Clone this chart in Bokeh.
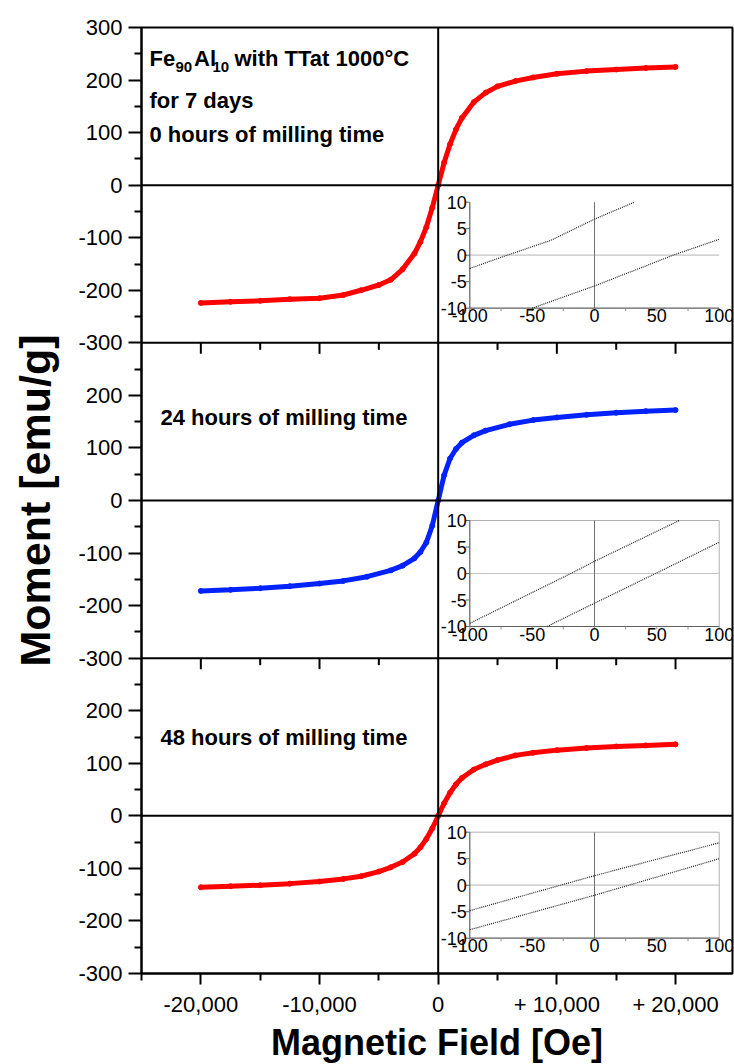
import math

from bokeh.core.properties import value
from bokeh.embed import file_html
from bokeh.models import FixedTicker, Range1d, Span
from bokeh.plotting import figure
from bokeh.resources import INLINE

# ---------------------------------------------------------------- data
# Hysteresis loops of Fe90Al10 (field in Oe, moment in emu/g)
field_0h = [-20000, -17500, -15000, -12500, -10000, -8000, -6500, -5000, -4000, -3000,
            -2000, -1500, -1000, -500, 0, 500, 1000, 1500, 2000, 3000, 4000, 5000,
            6500, 8000, 10000, 12500, 15000, 17500, 20000]
moment_0h = [-224, -222, -220, -217, -215, -209, -200, -190, -180, -160,
             -130, -108, -80, -43, 0, 43, 78, 106, 128, 158, 176, 188,
             198, 205, 212, 217, 220, 223, 225]

field_24h = [-20000, -17500, -15000, -12500, -10000, -8000, -6000, -4000, -3000, -2000,
             -1500, -1000, -500, 0, 500, 1000, 1500, 2000, 3000, 4000, 6000, 8000,
             10000, 12500, 15000, 17500, 20000]
moment_24h = [-172, -170, -167, -163, -158, -153, -145, -133, -124, -110,
              -98, -80, -48, 0, 48, 80, 98, 110, 124, 133, 145, 153,
              158, 163, 167, 170, 172]

field_48h = [-20000, -17500, -15000, -12500, -10000, -8000, -6500, -5000, -4000, -3000,
             -2000, -1500, -1000, -500, 0, 500, 1000, 1500, 2000, 3000, 4000, 5000,
             6500, 8000, 10000, 12500, 15000, 17500, 20000]
moment_48h = [-136, -134, -132, -129, -125, -120, -115, -106, -98, -88,
              -72, -60, -44, -24, 0, 24, 44, 60, 72, 88, 98, 106,
              115, 120, 125, 129, 132, 134, 136]

# Low-field detail (field in Oe, moment in emu/g): ascending / descending branches
inset_0h_up_x = [-100, -70, -35, 0, 32]
inset_0h_up_y = [-2.5, 0.0, 2.8, 6.8, 10.0]
inset_0h_dn_x = [-50, 0, 63, 100]
inset_0h_dn_y = [-10.0, -5.8, 0.0, 3.0]

inset_24h_up_x = [-100, -19, 0, 68]
inset_24h_up_y = [-9.4, 0.0, 2.3, 10.0]
inset_24h_dn_x = [-38, 0, 49, 100]
inset_24h_dn_y = [-10.0, -5.6, 0.0, 5.9]

inset_48h_up_x = [-100, 0, 100]
inset_48h_up_y = [-4.8, 1.8, 8.0]
inset_48h_dn_x = [-100, 0, 100]
inset_48h_dn_y = [-8.4, -1.9, 5.0]

x_major_ticks = [-20000, -10000, 0, 10000, 20000]
x_minor_ticks = [-25000, -15000, -5000, 5000, 15000]
x_tick_labels = ["-20,000", "-10,000", "0", "+ 10,000", "+ 20,000"]
panel_tick_values = [300, 200, 100, 0, -100, -200, -300]
inset_x_ticks = [-100, -50, 0, 50, 100]
inset_x_minor = [-75, -25, 25, 75]
inset_y_ticks = [-10, -5, 0, 5, 10]

panel_titles = ["24 hours of milling time", "48 hours of milling time"]

# ---------------------------------------------------------------- layout
W, H = 734, 1064
FRAME_L, FRAME_R, FRAME_T, FRAME_B = 141, 732, 27, 973
X_MIN, X_MAX = -25000, 24800
PANEL_SPAN = 600                       # each panel covers -300 .. 300 emu/g
Y_MIN, Y_MAX = -1.5 * PANEL_SPAN, 1.5 * PANEL_SPAN
FONT = "Liberation Sans"


def px_to_x(px):
    return X_MIN + (px - FRAME_L) / (FRAME_R - FRAME_L) * (X_MAX - X_MIN)


def px_to_y(py):
    return Y_MAX - (py - FRAME_T) / (FRAME_B - FRAME_T) * (Y_MAX - Y_MIN)


def fitted_range(v_a, p_a, v_b, p_b, p_start, p_end):
    """Range whose values v_a, v_b land on pixels p_a, p_b of the frame."""
    k = (v_b - v_a) / (p_b - p_a)
    return Range1d(start=v_a + (p_start - p_a) * k, end=v_a + (p_end - p_a) * k)


p = figure(
    frame_width=FRAME_R - FRAME_L, frame_height=FRAME_B - FRAME_T,
    x_range=Range1d(X_MIN, X_MAX), y_range=Range1d(Y_MIN, Y_MAX),
    min_border_left=FRAME_L, min_border_right=W - FRAME_R,
    min_border_top=FRAME_T, min_border_bottom=H - FRAME_B,
    output_backend="svg", toolbar_location=None,
    background_fill_color="white", border_fill_color="white",
)
p.grid.visible = False
p.outline_line_color = "black"
p.outline_line_width = 2

# one y range per stacked panel (top, middle, bottom)
p.extra_y_ranges = {
    "p0": Range1d(-300 - 2 * PANEL_SPAN, 300),
    "p1": Range1d(-300 - PANEL_SPAN, 300 + PANEL_SPAN),
    "p2": Range1d(-300, 300 + 2 * PANEL_SPAN),
}

# ---------------------------------------------------------------- axes
p.xaxis.ticker = FixedTicker(ticks=x_major_ticks, minor_ticks=x_minor_ticks)
p.xaxis.major_label_overrides = {t: s for t, s in zip(x_major_ticks, x_tick_labels)}
p.xaxis.axis_label = "Magnetic Field [Oe]"
p.xaxis.major_tick_out = 11
p.xaxis.minor_tick_out = 7
p.xaxis.major_label_standoff = 7
p.xaxis.axis_label_standoff = 2
p.xaxis.axis_label_text_font_size = "36px"

y_ticks, y_labels = [], {}
for k, centre in enumerate([PANEL_SPAN, 0, -PANEL_SPAN]):
    for v in panel_tick_values:
        if k > 0 and v == 300:
            continue
        t = centre + v
        y_ticks.append(t)
        y_labels[t] = str(v)
y_minor = [t + 50 for t in range(int(Y_MIN), int(Y_MAX), 100)]
p.yaxis.ticker = FixedTicker(ticks=y_ticks, minor_ticks=y_minor)
p.yaxis.major_label_overrides = y_labels
p.yaxis.axis_label = "Moment [emu/g]"
p.yaxis.major_tick_out = 13
p.yaxis.minor_tick_out = 7
p.yaxis.major_label_standoff = 6
p.yaxis.axis_label_standoff = 16
p.yaxis.axis_label_text_font_size = "43px"

for ax in (p.xaxis, p.yaxis):
    ax.axis_line_width = 2
    ax.axis_line_color = "black"
    ax.major_tick_in = 0
    ax.minor_tick_in = 0
    ax.major_tick_line_width = 2
    ax.minor_tick_line_width = 2
    ax.major_label_text_font = FONT
    ax.major_label_text_font_size = "22px"
    ax.major_label_text_color = "black"
    ax.axis_label_text_font = FONT
    ax.axis_label_text_font_style = "bold"
    ax.axis_label_text_color = "black"

# ---------------------------------------------------------------- frame lines
p.add_layout(Span(location=0, dimension="height", line_color="black", line_width=2))
for boundary in (300, -300):
    p.add_layout(Span(location=boundary, dimension="width", line_color="black", line_width=2))
    major = [t for t in x_major_ticks if t != 0]
    p.ray(x=major, y=[boundary] * len(major), length=11, length_units="screen",
          angle=-math.pi / 2, line_color="black", line_width=2)
    minor = [t for t in x_minor_ticks if t != X_MIN]
    p.ray(x=minor, y=[boundary] * len(minor), length=7, length_units="screen",
          angle=-math.pi / 2, line_color="black", line_width=2)
for k in range(3):
    p.add_layout(Span(location=0, dimension="width", y_range_name=f"p{k}",
                      line_color="black", line_width=2))

# ---------------------------------------------------------------- loops
loops = [
    (field_0h, moment_0h, "#ff0000"),
    (field_24h, moment_24h, "#0022ff"),
    (field_48h, moment_48h, "#ff0000"),
]
for k, (hx, my, col) in enumerate(loops):
    p.line(hx, my, y_range_name=f"p{k}", line_color=col, line_width=5)
    p.scatter(hx, my, y_range_name=f"p{k}", size=5, fill_color=col, line_color=col)

# ---------------------------------------------------------------- insets
INSET_L, INSET_R = 469.3, 718.7
inset_tops = [201.7, 520.0, 831.7]
INSET_H = 106.0
p.extra_x_ranges = {
    "ix": fitted_range(inset_x_ticks[0], INSET_L, inset_x_ticks[-1], INSET_R, FRAME_L, FRAME_R)
}
insets = [
    (inset_0h_up_x, inset_0h_up_y, inset_0h_dn_x, inset_0h_dn_y, False),
    (inset_24h_up_x, inset_24h_up_y, inset_24h_dn_x, inset_24h_dn_y, True),
    (inset_48h_up_x, inset_48h_up_y, inset_48h_dn_x, inset_48h_dn_y, True),
]
xlo, xhi = inset_x_ticks[0], inset_x_ticks[-1]
ylo, yhi = inset_y_ticks[0], inset_y_ticks[-1]
for k, (ux, uy, dx, dy, boxed) in enumerate(insets):
    name = f"i{k}"
    top = inset_tops[k]
    p.extra_y_ranges[name] = fitted_range(yhi, top, ylo, top + INSET_H, FRAME_B, FRAME_T)
    kw = dict(x_range_name="ix", y_range_name=name)

    if boxed:
        p.line([xlo, xhi, xhi], [yhi, yhi, ylo], line_color="#b0b0b0", line_width=1, **kw)
    p.line([xlo, xhi], [0, 0], line_color="#c4c4c4", line_width=1.2, **kw)
    p.line([0, 0], [ylo, yhi], line_color="#707070", line_width=1, **kw)
    p.line([xlo, xlo, xhi], [yhi, ylo, ylo], line_color="#606060", line_width=1.2, **kw)

    p.ray(x=[xlo] * len(inset_y_ticks), y=inset_y_ticks, length=4, length_units="screen",
          angle=math.pi, line_color="#606060", line_width=1, **kw)
    ticks_x = inset_x_ticks + inset_x_minor
    p.ray(x=ticks_x, y=[ylo] * len(ticks_x), length=3, length_units="screen",
          angle=-math.pi / 2, line_color="#909090", line_width=1, **kw)

    p.line(ux, uy, line_color="#202020", line_width=1.2, line_dash="1 1", **kw)
    p.line(dx, dy, line_color="#202020", line_width=1.2, line_dash="1 1", **kw)

    p.text(x=[xlo] * len(inset_y_ticks), y=inset_y_ticks, text=[str(v) for v in inset_y_ticks],
           x_offset=-3, text_align="right", text_baseline="middle",
           text_font=value(FONT), text_font_size="18px", text_color="black", **kw)
    p.text(x=inset_x_ticks, y=[ylo] * len(inset_x_ticks), text=[str(v) for v in inset_x_ticks],
           y_offset=1, text_align="center", text_baseline="top",
           text_font=value(FONT), text_font_size="18px", text_color="black", **kw)

# ---------------------------------------------------------------- annotations
bold = dict(text_font=value(FONT), text_font_style="bold", text_color="black",
            text_baseline="alphabetic", text_align="left")

# Fe90Al10 with subscripts, assembled piecewise
p.text(x=[px_to_x(149), px_to_x(193.5), px_to_x(234)], y=[px_to_y(58.3)] * 3,
       text=["Fe", "Al", "with TTat 1000°C"], text_font_size="22px", **bold)
p.text(x=[px_to_x(175), px_to_x(212)], y=[px_to_y(66.5)] * 2,
       text=["90", "10"], text_font_size="15px", **bold)
p.text(x=[px_to_x(149)] * 2, y=[px_to_y(99.5), px_to_y(134)],
       text=["for 7 days", "0 hours of milling time"], text_font_size="22px", **bold)
p.text(x=[px_to_x(160)] * 2, y=[px_to_y(417), px_to_y(737)],
       text=panel_titles, text_font_size="22px", **bold)

open("out.html", "w").write(file_html(p, INLINE))
